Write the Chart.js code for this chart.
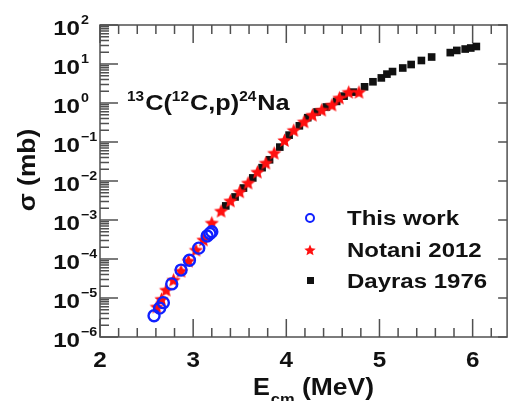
<!DOCTYPE html>
<html>
<head>
<meta charset="utf-8">
<script src="https://cdn.jsdelivr.net/npm/chart.js@4.4.1/dist/chart.umd.min.js"></script>
<style>
    body { margin: 0; background: #fff; }
    #wrap { width: 515px; height: 401px; }
</style>
</head>
<body>
<div id="wrap"><canvas id="sigmaChart"></canvas></div>
<script>
// This work (blue open circles)
var thisWorkE = [2.58, 2.64, 2.68, 2.77, 2.87, 2.96, 3.06, 3.15, 3.18, 3.20];
var thisWorkSigma = [3.5e-6, 5.5e-6, 7.6e-6, 2.3e-5, 5.2e-5, 9.3e-5, 1.9e-4, 3.9e-4, 4.5e-4, 5.0e-4];

// Notani 2012 (red stars)
var notaniE = [2.61, 2.66, 2.71, 2.79, 2.87, 2.95, 3.03, 3.11, 3.20, 3.30, 3.40, 3.50, 3.59,
    3.69, 3.78, 3.87, 3.98, 4.08, 4.19, 4.28, 4.38, 4.49, 4.57, 4.67, 4.78];
var notaniSigma = [5.9e-6, 9.3e-6, 1.6e-5, 2.9e-5, 4.9e-5, 8.9e-5, 1.7e-4, 3.1e-4, 8.4e-4, 1.7e-3,
    3.1e-3, 5.3e-3, 8.9e-3, 1.7e-2, 2.9e-2, 5.2e-2, 0.11, 0.20, 0.33, 0.49, 0.66, 0.89, 1.35, 1.9, 1.9];

// Dayras 1976 (black squares)
var dayrasE = [3.35, 3.45, 3.54, 3.64, 3.74, 3.82, 3.93, 4.03, 4.14, 4.23, 4.33, 4.43, 4.54, 4.62, 4.72,
    4.84, 4.93, 5.02, 5.08, 5.14, 5.25, 5.34, 5.45, 5.56, 5.76, 5.83, 5.92, 5.98, 6.04];
var dayrasSigma = [2.3e-3, 3.9e-3, 6.6e-3, 1.2e-2, 2.2e-2, 3.5e-2, 7.4e-2, 0.15, 0.26, 0.42, 0.59, 0.79, 1.1, 1.5, 1.9,
    2.6, 3.5, 4.4, 5.5, 6.4, 7.9, 9.7, 12.3, 15.1, 19.6, 22.3, 24.2, 25.7, 28.1];

// Ticks
var xMajorTicks = [2, 3, 4, 5, 6];
var yExponents = [2, 1, 0, -1, -2, -3, -4, -5, -6];

var FONT = '"Liberation Sans", Arial, sans-serif';
var AXIS_COLOR = '#505050';

function toPoints(xs, ys) {
    return xs.map(function (x, i) { return { x: x, y: ys[i] }; });
}

// Estrella rellena para los puntos de Notani
function makeStar(r, color) {
    var c = document.createElement('canvas');
    var s = Math.ceil(r * 2 + 2);
    c.width = s;
    c.height = s;
    var ctx = c.getContext('2d');
    ctx.fillStyle = color;
    ctx.beginPath();
    for (var i = 0; i < 10; i++) {
        var rad = i % 2 === 0 ? r : r * 0.45;
        var a = -Math.PI / 2 + i * Math.PI / 5;
        ctx.lineTo(s / 2 + rad * Math.cos(a), s / 2 + 0.5 + rad * Math.sin(a));
    }
    ctx.closePath();
    ctx.fill();
    return c;
}

var starBig = makeStar(7.5, '#ff1010');
var starSmall = makeStar(6, '#ff1010');

// Texto en negrita con un poco de estiramiento horizontal
function drawText(ctx, s, x, y, size, align, sx) {
    ctx.save();
    ctx.font = 'bold ' + size + 'px ' + FONT;
    ctx.textBaseline = 'alphabetic';
    ctx.textAlign = 'left';
    var w = ctx.measureText(s).width * sx;
    var x0 = align === 'center' ? x - w / 2 : (align === 'right' ? x - w : x);
    ctx.translate(x0, y);
    ctx.scale(sx, 1);
    ctx.fillStyle = '#111';
    ctx.fillText(s, 0, 0);
    ctx.restore();
    return w;
}

var framePlugin = {
    id: 'frame',
    beforeDatasetsDraw: function (chart) {
        var ctx = chart.ctx;
        var a = chart.chartArea;
        var xs = chart.scales.x;
        var ys = chart.scales.y;
        ctx.save();
        ctx.strokeStyle = AXIS_COLOR;
        ctx.lineWidth = 1.5;
        ctx.strokeRect(a.left, a.top, a.right - a.left, a.bottom - a.top);
        ctx.beginPath();
        // x ticks, bottom and top
        for (var v = 2; v <= 6.4001; v += 0.2) {
            var px = xs.getPixelForValue(v);
            if (px > a.right - 1) break;
            var major = Math.abs(v - Math.round(v)) < 0.01;
            var len = major ? 18 : 9;
            ctx.moveTo(px, a.bottom);
            ctx.lineTo(px, a.bottom - len);
            ctx.moveTo(px, a.top);
            ctx.lineTo(px, a.top + len);
        }
        // y ticks, left (major + minor) and right (major)
        for (var e = -6; e <= 2; e++) {
            var py = ys.getPixelForValue(Math.pow(10, e));
            ctx.moveTo(a.left, py);
            ctx.lineTo(a.left + 18, py);
            ctx.moveTo(a.right, py);
            ctx.lineTo(a.right - 9, py);
            if (e < 2) {
                for (var m = 2; m <= 9; m++) {
                    var pm = ys.getPixelForValue(m * Math.pow(10, e));
                    ctx.moveTo(a.left, pm);
                    ctx.lineTo(a.left + 9, pm);
                }
            }
        }
        ctx.stroke();
        ctx.restore();
    },
    afterDraw: function (chart) {
        var ctx = chart.ctx;
        var xs = chart.scales.x;
        var ys = chart.scales.y;

        // y tick labels 10^n
        yExponents.forEach(function (e) {
            var py = ys.getPixelForValue(Math.pow(10, e));
            drawText(ctx, '10', 80, py + 10, 21, 'right', 1.15);
            drawText(ctx, String(e).replace('-', '\u2212'), 81, py - 1, 13, 'left', 1.1);
        });

        // x tick labels
        xMajorTicks.forEach(function (v) {
            drawText(ctx, String(v), xs.getPixelForValue(v), 367, 22, 'center', 1.1);
        });

        // x title
        var w = drawText(ctx, 'E', 253, 395, 23, 'left', 1.1);
        drawText(ctx, 'cm', 253 + w + 1, 404, 15, 'left', 1.1);
        drawText(ctx, '(MeV)', 302, 395, 23, 'left', 1.15);

        // y title
        ctx.save();
        ctx.translate(35, 170);
        ctx.rotate(-Math.PI / 2);
        drawText(ctx, '\u03c3 (mb)', 0, 0, 24, 'center', 1.1);
        ctx.restore();

        // reaction label
        var x = 127;
        x += drawText(ctx, '13', x, 101, 14, 'left', 1.1);
        x += drawText(ctx, 'C(', x + 1, 110, 22, 'left', 1.15) + 1;
        x += drawText(ctx, '12', x, 101, 14, 'left', 1.1);
        x += drawText(ctx, 'C,p)', x + 1, 110, 22, 'left', 1.15) + 1;
        x += drawText(ctx, '24', x, 101, 14, 'left', 1.1);
        drawText(ctx, 'Na', x + 1, 110, 22, 'left', 1.15);

        // legend
        ctx.save();
        ctx.strokeStyle = '#1020ff';
        ctx.lineWidth = 2;
        ctx.beginPath();
        ctx.arc(310, 218, 4, 0, Math.PI * 2);
        ctx.stroke();
        ctx.restore();
        ctx.drawImage(starSmall, 310 - starSmall.width / 2, 250 - starSmall.height / 2);
        ctx.fillStyle = '#111';
        ctx.fillRect(307, 277, 7, 7);
        drawText(ctx, 'This work', 347, 225, 20, 'left', 1.2);
        drawText(ctx, 'Notani 2012', 347, 257, 20, 'left', 1.2);
        drawText(ctx, 'Dayras 1976', 347, 288, 20, 'left', 1.2);
    }
};

new Chart(document.getElementById('sigmaChart'), {
    type: 'scatter',
    data: {
        datasets: [
            {
                label: 'This work',
                data: toPoints(thisWorkE, thisWorkSigma),
                pointStyle: 'circle',
                pointRadius: 5.5,
                borderWidth: 2.4,
                borderColor: '#1020ff',
                backgroundColor: 'rgba(0,0,0,0)'
            },
            {
                label: 'Notani 2012',
                data: toPoints(notaniE, notaniSigma),
                pointStyle: starBig
            },
            {
                label: 'Dayras 1976',
                data: toPoints(dayrasE, dayrasSigma),
                pointStyle: 'rect',
                pointRadius: 5.4,
                borderWidth: 0,
                backgroundColor: '#111'
            }
        ]
    },
    options: {
        responsive: true,
        maintainAspectRatio: false,
        animation: false,
        layout: { padding: { left: 0, top: 25, right: 2, bottom: 0 } },
        plugins: {
            legend: { display: false },
            tooltip: { enabled: false }
        },
        scales: {
            x: {
                type: 'linear',
                min: 2,
                max: 6.37,
                grid: { display: false },
                border: { display: false },
                ticks: { display: false },
                afterFit: function (s) { s.height = 64; }
            },
            y: {
                type: 'logarithmic',
                min: 1e-6,
                max: 1e2,
                grid: { display: false },
                border: { display: false },
                ticks: { display: false },
                afterFit: function (s) { s.width = 100; }
            }
        }
    },
    plugins: [framePlugin]
});
</script>
</body>
</html>
